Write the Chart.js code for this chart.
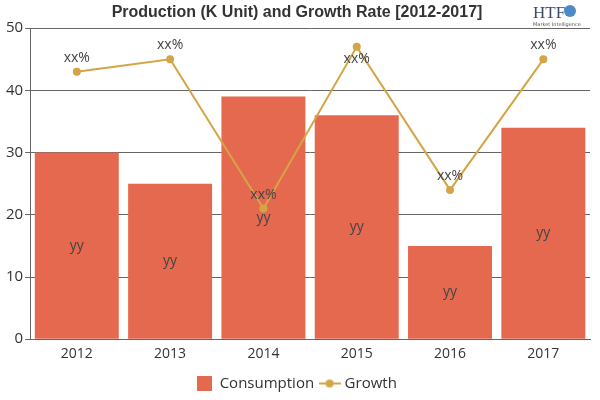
<!DOCTYPE html>
<html>
<head>
<meta charset="utf-8">
<script src="https://cdn.jsdelivr.net/npm/chart.js@4/dist/chart.umd.min.js"></script>
<style>
html,body{margin:0;padding:0;background:#fff;}
#wrap{width:600px;height:400px;position:relative;}
</style>
</head>
<body>
<div id="wrap"><canvas id="c" width="600" height="400"></canvas></div>
<script>
const categories = ['2012','2013','2014','2015','2016','2017'];
const consumption = [30, 25, 39, 36, 15, 34];
const growth = [43, 45, 21, 47, 24, 45];
const barLabels = ['yy','yy','yy','yy','yy','yy'];
const lineLabels = ['xx%','xx%','xx%','xx%','xx%','xx%'];
const yTicks = [0, 10, 20, 30, 40, 50];

const BAR = '#E5694F';
const LINE = '#D4A446';

// legend icon for line series
const lineIcon = document.createElement('canvas');
lineIcon.width = 22; lineIcon.height = 10;
(function(){
  const g = lineIcon.getContext('2d');
  g.strokeStyle = LINE; g.lineWidth = 2;
  g.beginPath(); g.moveTo(0,5); g.lineTo(22,5); g.stroke();
  g.fillStyle = LINE; g.beginPath(); g.arc(11,5,4,0,Math.PI*2); g.fill();
})();
const rectIcon = document.createElement('canvas');
rectIcon.width = 15; rectIcon.height = 15;
(function(){
  const g = rectIcon.getContext('2d');
  g.fillStyle = BAR; g.fillRect(0,0,15,15);
})();

const labelPlugin = {
  id: 'vlabels',
  afterDatasetsDraw(chart) {
    const ctx = chart.ctx;
    ctx.save();
    ctx.font = '14px "Open Sans", "Noto Sans", sans-serif';
    ctx.fillStyle = '#444';
    ctx.textAlign = 'center';
    ctx.textBaseline = 'middle';
    const bm = chart.getDatasetMeta(0);
    bm.data.forEach((el, i) => {
      const y = (el.y + el.base) / 2;
      ctx.fillText(barLabels[i], el.x, y);
    });
    const lm = chart.getDatasetMeta(1);
    lm.data.forEach((el, i) => {
      let y = el.y - 14;
      if (y < chart.chartArea.top + 10) y = el.y + 12;
      ctx.fillText(lineLabels[i], el.x, y);
    });
    ctx.restore();
  }
};

const logoPlugin = {
  id: 'logo',
  afterDraw(chart) {
    const ctx = chart.ctx;
    ctx.save();
    ctx.fillStyle = '#3a4a6a';
    ctx.font = '17px "Liberation Serif", serif';
    ctx.textAlign = 'left';
    ctx.textBaseline = 'alphabetic';
    ctx.fillText('HTF', 533, 18);
    ctx.fillStyle = '#4a8ac8';
    ctx.beginPath();
    ctx.arc(570, 11, 6, 0, Math.PI * 2);
    ctx.fill();
    ctx.fillStyle = '#555';
    ctx.font = '5px "DejaVu Sans", sans-serif';
    ctx.fillText('Market Intelligence', 533, 26);
    ctx.restore();
  }
};

new Chart(document.getElementById('c'), {
  data: {
    labels: categories,
    datasets: [
      {
        type: 'bar',
        label: 'Consumption',
        data: consumption,
        backgroundColor: BAR,
        barPercentage: 0.9,
        categoryPercentage: 1.0,
        order: 2
      },
      {
        type: 'line',
        label: 'Growth',
        data: growth,
        borderColor: LINE,
        backgroundColor: LINE,
        borderWidth: 2,
        pointRadius: 4,
        pointHoverRadius: 4,
        pointBackgroundColor: LINE,
        pointBorderWidth: 0,
        tension: 0,
        order: 1
      }
    ]
  },
  options: {
    responsive: false,
    animation: false,
    devicePixelRatio: 1,
    layout: { padding: { left: 4, right: 10, top: 0, bottom: -1 } },
    plugins: {
      title: {
        display: true,
        text: 'Production (K Unit) and Growth Rate [2012-2017]',
        color: '#333',
        font: { family: '"Liberation Sans Narrow", "Liberation Sans", sans-serif', size: 16, weight: 'bold' },
        padding: { top: 3, bottom: 6 }
      },
      legend: {
        position: 'bottom',
        labels: {
          usePointStyle: true,
          generateLabels(chart) {
            return [
              { text: 'Consumption', pointStyle: rectIcon, fillStyle: BAR, strokeStyle: BAR, lineWidth: 0, datasetIndex: 0, fontColor: '#333' },
              { text: 'Growth', pointStyle: lineIcon, fillStyle: LINE, strokeStyle: LINE, lineWidth: 0, datasetIndex: 1, fontColor: '#333' }
            ];
          },
          color: '#333',
          font: { family: '"Open Sans", "Noto Sans", sans-serif', size: 15 },
          padding: 8,
          boxWidth: 22,
          boxHeight: 15
        }
      },
      tooltip: { enabled: false }
    },
    scales: {
      x: {
        grid: { display: false, drawTicks: false },
        border: { display: true, color: '#666' },
        ticks: { color: '#333', font: { family: '"Open Sans", "Noto Sans", sans-serif', size: 14 }, padding: 6 }
      },
      y: {
        min: 0,
        max: 50,
        afterBuildTicks(axis) { axis.ticks = yTicks.map(v => ({ value: v })); },
        grid: { color: '#666', lineWidth: 1, tickLength: 5 },
        border: { display: true, color: '#666' },
        ticks: { color: '#333', font: { family: '"Open Sans", "Noto Sans", sans-serif', size: 15 }, padding: 2 }
      }
    }
  },
  plugins: [labelPlugin, logoPlugin]
});
</script>
</body>
</html>
